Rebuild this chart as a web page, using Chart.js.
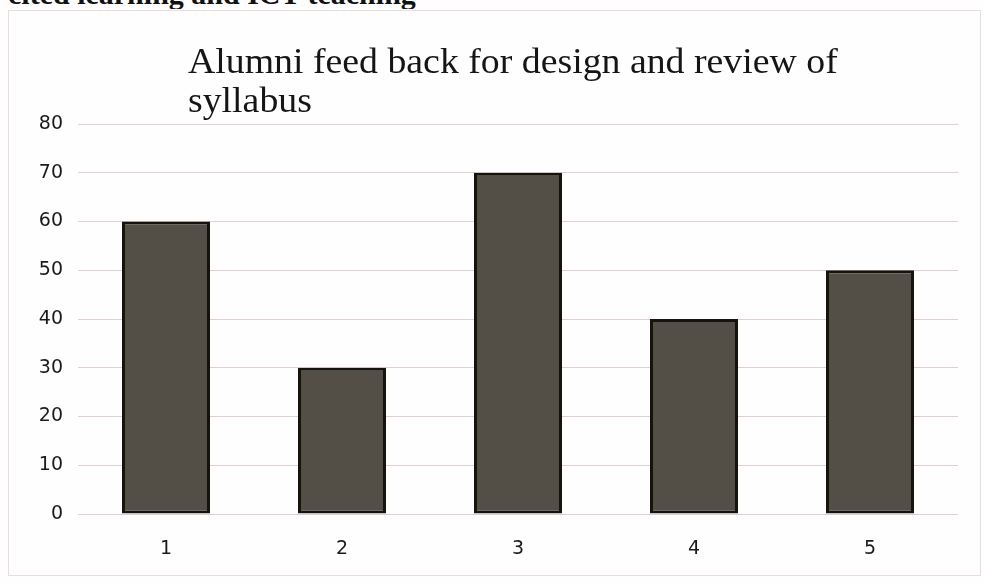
<!DOCTYPE html>
<html>
<head>
<meta charset="utf-8">
<script src="https://cdn.jsdelivr.net/npm/chart.js@4/dist/chart.umd.min.js"></script>
<style>
  html, body { margin: 0; padding: 0; background: #ffffff; }
  #wrap { position: relative; width: 985px; height: 584px; overflow: hidden; background: #fefefe; }
  #frame { position: absolute; left: 8px; top: 10px; width: 973px; height: 566px; border: 1px solid #ecdcdc; box-sizing: border-box; }
  #cut { position: absolute; left: 8px; top: 0; width: 760px; height: 9px; overflow: hidden; }
  #cut span { position: absolute; left: 0; top: -23px; font: bold 30px "Liberation Serif", serif; color: #111; white-space: nowrap; }
  canvas { position: absolute; left: 0; top: 0; }
</style>
</head>
<body>
<div id="wrap">
  <div id="cut"><span>cited learning and ICT teaching</span></div>
  <div id="frame"></div>
  <canvas id="c" width="985" height="584"></canvas>
</div>
<script>
const categories = ["1", "2", "3", "4", "5"];
const values = [60, 30, 70, 40, 50];
const titleLines = ["Alumni feed back for design and review of", "syllabus"];
const yTicks = [0, 10, 20, 30, 40, 50, 60, 70, 80];

const titlePlugin = {
  id: 'leftTitle',
  afterDraw(chart) {
    const ctx = chart.ctx;
    ctx.save();
    ctx.font = '36px "Liberation Serif", "Times New Roman", serif';
    ctx.fillStyle = '#151515';
    ctx.textBaseline = 'alphabetic';
    ctx.textAlign = 'left';
    const x = chart.chartArea.left + 110;
    ctx.translate(x, 0);
    ctx.scale(1.05, 1);
    titleLines.forEach((t, i) => ctx.fillText(t, 0, 73 + i * 39));
    ctx.restore();
  }
};

const tickFont = { family: '"DejaVu Sans", Verdana, sans-serif', size: 19 };

new Chart(document.getElementById('c'), {
  type: 'bar',
  data: {
    labels: categories,
    datasets: [{
      data: values,
      backgroundColor: '#534f46',
      borderColor: '#15130e',
      borderWidth: 3,
      borderSkipped: false,
      categoryPercentage: 1.0,
      barPercentage: 0.5
    }]
  },
  options: {
    responsive: false,
    animation: false,
    devicePixelRatio: 1,
    layout: { padding: { left: 0, right: 27, top: 124, bottom: 0 } },
    plugins: { legend: { display: false }, title: { display: false }, tooltip: { enabled: false } },
    scales: {
      x: {
        grid: { display: false, drawTicks: false },
        border: { display: false },
        ticks: { color: '#1a1a1a', padding: 24, font: tickFont },
        afterFit(s) { s.height = 70; }
      },
      y: {
        min: 0, max: 80,
        afterBuildTicks(s) { s.ticks = yTicks.map(v => ({ value: v })); },
        grid: { color: '#e2cfcf', lineWidth: 1, drawTicks: false },
        border: { display: false },
        ticks: { color: '#1a1a1a', padding: 15, font: tickFont },
        afterFit(s) { s.width = 78; }
      }
    }
  },
  plugins: [titlePlugin]
});
</script>
</body>
</html>
